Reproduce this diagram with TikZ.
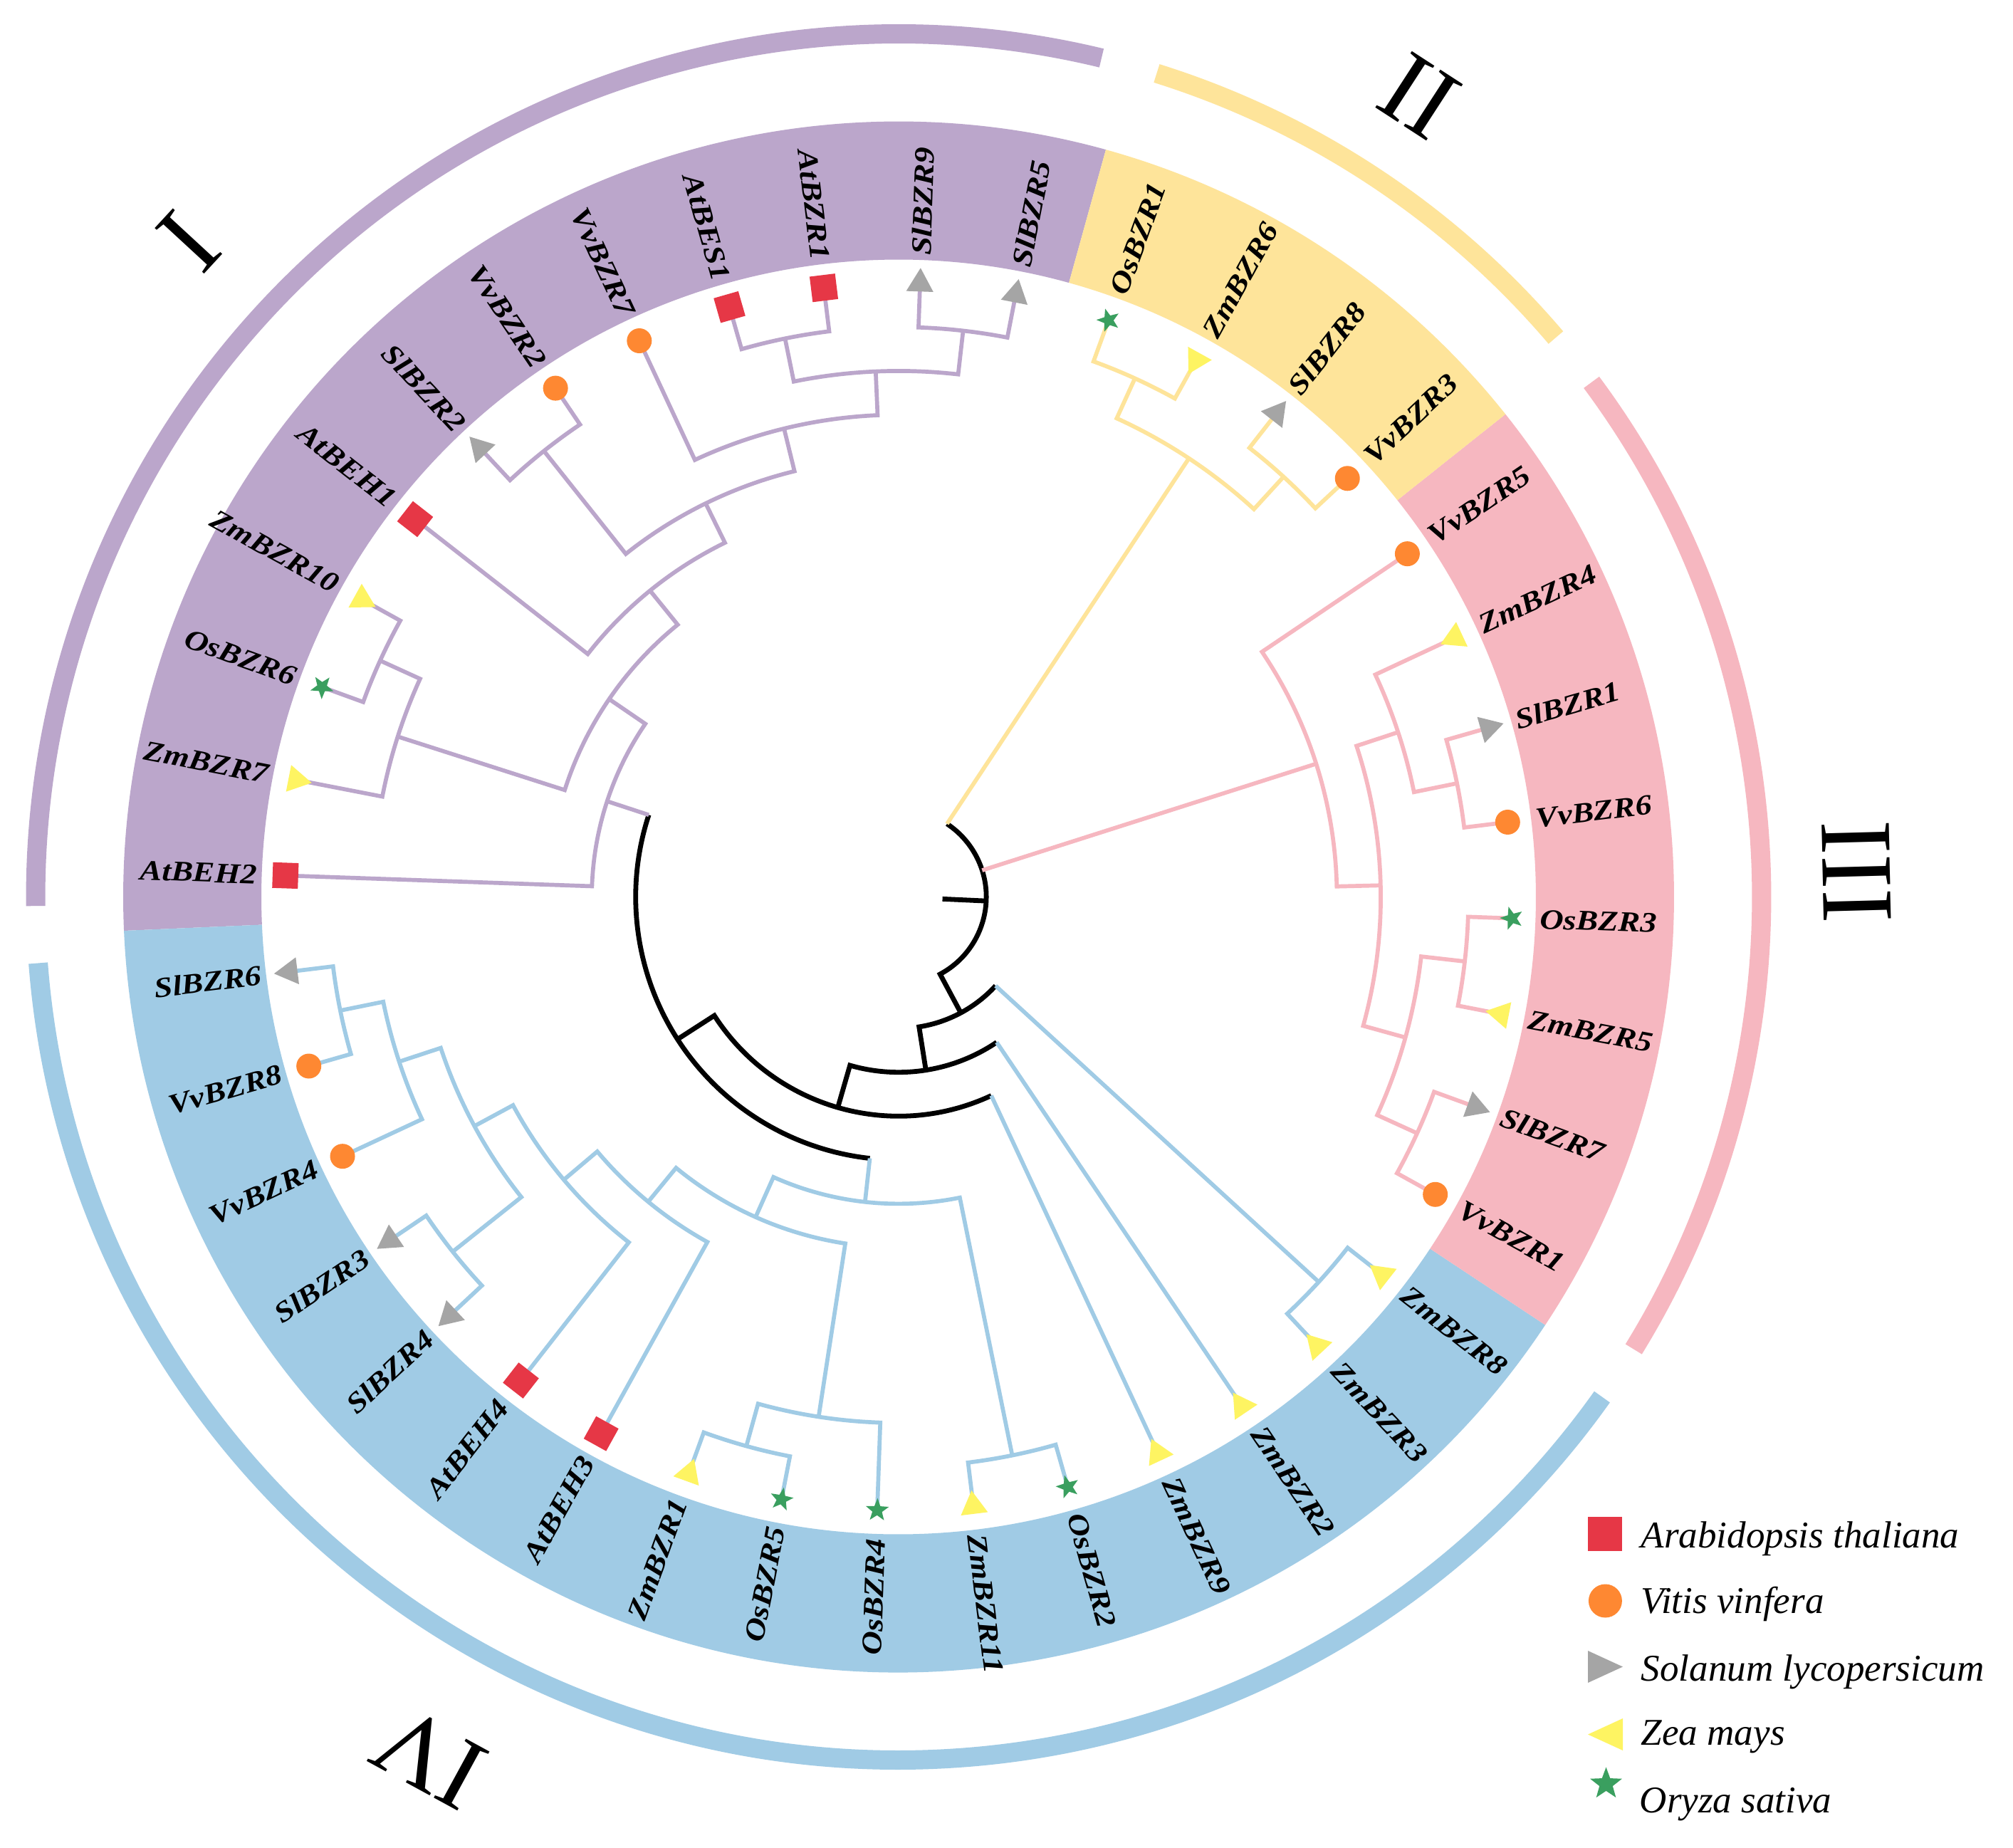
\documentclass[tikz,border=0pt]{standalone}
\usepackage{fontspec}
\setmainfont{Liberation Serif}
\usepackage{graphicx}
\usetikzlibrary{shapes.geometric}

\definecolor{cI}{HTML}{BBA6CB}
\definecolor{cII}{HTML}{FEE49A}
\definecolor{cIII}{HTML}{F6B7C0}
\definecolor{cIV}{HTML}{A0CBE5}
\definecolor{mAt}{HTML}{E63746}
\definecolor{mVv}{HTML}{FE8832}
\definecolor{mSl}{HTML}{A5A5A5}
\definecolor{mZm}{HTML}{FEF462}
\definecolor{mOs}{HTML}{3A9F5F}

\tikzset{
  br/.style={line width=0.057cm, line join=miter},
  bI/.style={br, draw=cI},
  bII/.style={br, draw=cII},
  bIII/.style={br, draw=cIII},
  bIV/.style={br, draw=cIV},
  blk/.style={line width=0.068cm, draw=black, line join=miter},
  mkAt/.style={rectangle, fill=mAt, minimum size=0.36cm, inner sep=0pt, rotate=#1},
  mkVv/.style={circle, fill=mVv, minimum size=0.35cm, inner sep=0pt},
  mkSl/.style={regular polygon, regular polygon sides=3, fill=mSl, minimum size=0.44cm, inner sep=0pt, rotate=#1-90},
  mkZm/.style={regular polygon, regular polygon sides=3, fill=mZm, minimum size=0.44cm, inner sep=0pt, rotate=#1+90},
  mkOs/.style={star, star points=5, star point ratio=2.4, fill=mOs, minimum size=0.34cm, inner sep=0pt, rotate=#1+90},
  lab/.style={inner sep=0pt, font=\fontsize{11.4}{12}\selectfont\bfseries\itshape},
  num/.style={inner sep=0pt, font=\fontsize{41}{41}\selectfont},
  leg/.style={inner sep=0pt, anchor=base west, font=\fontsize{15.1}{16}\selectfont\itshape},
}

% two-child clade: style, name, radius, child1, child2
\newcommand{\clade}[5]{%
  \pgfmathsetmacro\cladeA{\csname ang-#4\endcsname}%
  \pgfmathsetmacro\cladeB{\csname ang-#5\endcsname}%
  \pgfmathsetmacro\cladeM{(\cladeA+\cladeB)/2}%
  \expandafter\xdef\csname ang-#2\endcsname{\cladeM}%
  \coordinate (#2) at (\cladeM:#3);%
  \draw[#1] (#4) -- (\cladeA:#3) arc[start angle=\cladeA, end angle=\cladeB, radius=#3] -- (#5);%
}
% black clade with black stem to child1 and blue stem to child2
\newcommand{\chain}[4]{%
  \pgfmathsetmacro\cladeA{\csname ang-#3\endcsname}%
  \pgfmathsetmacro\cladeB{\csname ang-#4\endcsname}%
  \pgfmathsetmacro\cladeM{(\cladeA+\cladeB)/2}%
  \expandafter\xdef\csname ang-#1\endcsname{\cladeM}%
  \coordinate (#1) at (\cladeM:#2);%
  \draw[blk] (#3) -- (\cladeA:#2) arc[start angle=\cladeA, end angle=\cladeB, radius=#2];%
  \draw[bIV] (\cladeB:#2) -- (#4);%
}

\def\tiplist{SlBZR5/79/mkSl, SlBZR9/88/mkSl, AtBZR1/97/mkAt, AtBES1/106/mkAt, VvBZR7/115/mkVv, VvBZR2/124/mkVv, SlBZR2/133/mkSl, AtBEH1/142/mkAt, ZmBZR10/151/mkZm, OsBZR6/160/mkOs, ZmBZR7/169/mkZm, AtBEH2/178/mkAt,
SlBZR6/187/mkSl, VvBZR8/196/mkVv, VvBZR4/205/mkVv, SlBZR3/214/mkSl, SlBZR4/223/mkSl, AtBEH4/232/mkAt, AtBEH3/241/mkAt, ZmBZR1/250/mkZm, OsBZR5/259/mkOs, OsBZR4/268/mkOs, ZmBZR11/277/mkZm, OsBZR2/286/mkOs, ZmBZR9/295/mkZm, ZmBZR2/304/mkZm, ZmBZR3/313/mkZm, ZmBZR8/322/mkZm,
VvBZR1/-29/mkVv, SlBZR7/-20/mkSl, ZmBZR5/-11/mkZm, OsBZR3/-2/mkOs, VvBZR6/7/mkVv, SlBZR1/16/mkSl, ZmBZR4/25/mkZm, VvBZR5/34/mkVv,
VvBZR3/43/mkVv, SlBZR8/52/mkSl, ZmBZR6/61/mkZm, OsBZR1/70/mkOs}

\begin{document}
\begin{tikzpicture}
\useasboundingbox (0,0) rectangle (28.27,25.94);
\fill[white] (0,0) rectangle (28.27,25.94);

\begin{scope}[shift={(12.62,13.345)}]
  % label bands
  \fill[cI] (74.5:8.95) arc[start angle=74.5, end angle=182.5, radius=8.95] -- (182.5:10.89) arc[start angle=182.5, end angle=74.5, radius=10.89] -- cycle;
  \fill[cIV] (182.5:8.95) arc[start angle=182.5, end angle=326.5, radius=8.95] -- (326.5:10.89) arc[start angle=326.5, end angle=182.5, radius=10.89] -- cycle;
  \fill[cIII] (326.5:8.95) arc[start angle=326.5, end angle=398.5, radius=8.95] -- (398.5:10.89) arc[start angle=398.5, end angle=326.5, radius=10.89] -- cycle;
  \fill[cII] (38.5:8.95) arc[start angle=38.5, end angle=74.5, radius=8.95] -- (74.5:10.89) arc[start angle=74.5, end angle=38.5, radius=10.89] -- cycle;

  % group arcs
  \draw[cI, line width=0.27cm] (76.4:12.12) arc[start angle=76.4, end angle=180.6, radius=12.12];
  \draw[cIV, line width=0.27cm] (184.4:12.12) arc[start angle=184.4, end angle=324.6, radius=12.12];
  \draw[cIII, line width=0.27cm] (328.4:12.12) arc[start angle=328.4, end angle=396.6, radius=12.12];
  \draw[cII, line width=0.27cm] (40.4:12.12) arc[start angle=40.4, end angle=72.6, radius=12.12];

  % tips
  \foreach \nm/\ang/\sp in \tiplist {
    \coordinate (\nm) at (\ang:8.617);
    \expandafter\xdef\csname ang-\nm\endcsname{\ang}
  }

  % clade I
  \clade{bI}{NSS}{8.002}{SlBZR5}{SlBZR9}
  \clade{bI}{NAA}{8.002}{AtBZR1}{AtBES1}
  \clade{bI}{NAB}{7.386}{NSS}{NAA}
  \clade{bI}{NAC}{6.771}{NAB}{VvBZR7}
  \clade{bI}{NVS}{8.002}{VvBZR2}{SlBZR2}
  \clade{bI}{NAD}{6.155}{NAC}{NVS}
  \clade{bI}{NAE}{5.540}{NAD}{AtBEH1}
  \clade{bI}{NZO}{8.002}{ZmBZR10}{OsBZR6}
  \clade{bI}{NZZ}{7.386}{NZO}{ZmBZR7}
  \clade{bI}{NAF}{4.924}{NAE}{NZZ}
  \clade{bI}{NAG}{4.309}{NAF}{AtBEH2}
  % clade IV
  \clade{bIV}{NSV}{8.002}{SlBZR6}{VvBZR8}
  \clade{bIV}{NSVV}{7.386}{NSV}{VvBZR4}
  \clade{bIV}{NSStwo}{8.002}{SlBZR3}{SlBZR4}
  \clade{bIV}{Na}{6.771}{NSVV}{NSStwo}
  \clade{bIV}{Nb}{6.155}{Na}{AtBEH4}
  \clade{bIV}{Nc}{5.540}{Nb}{AtBEH3}
  \clade{bIV}{Ne}{8.002}{ZmBZR1}{OsBZR5}
  \clade{bIV}{Nd}{7.386}{Ne}{OsBZR4}
  \clade{bIV}{BL}{4.924}{Nc}{Nd}
  \clade{bIV}{BZO}{8.002}{ZmBZR11}{OsBZR2}
  \clade{bIV}{Bmain}{4.309}{BL}{BZO}
  \clade{bIV}{NZ83}{8.002}{ZmBZR3}{ZmBZR8}
  % clade III
  \clade{bIII}{P7}{8.002}{VvBZR1}{SlBZR7}
  \clade{bIII}{P6}{8.002}{ZmBZR5}{OsBZR3}
  \clade{bIII}{P5}{7.386}{P7}{P6}
  \clade{bIII}{P4}{8.002}{VvBZR6}{SlBZR1}
  \clade{bIII}{P3}{7.386}{P4}{ZmBZR4}
  \clade{bIII}{P2}{6.771}{P5}{P3}
  \clade{bIII}{P1}{6.155}{P2}{VvBZR5}
  % clade II
  \clade{bII}{Y3}{8.002}{VvBZR3}{SlBZR8}
  \clade{bII}{Y2}{8.002}{ZmBZR6}{OsBZR1}
  \clade{bII}{Y1}{7.386}{Y3}{Y2}

  % black backbone
  \pgfmathsetmacro\rA{\csname ang-NAG\endcsname}
  \pgfmathsetmacro\rB{\csname ang-Bmain\endcsname}
  \pgfmathsetmacro\rM{(\rA+\rB)/2}
  \expandafter\xdef\csname ang-R5\endcsname{\rM}
  \coordinate (R5) at (\rM:3.693);
  \draw[blk] (\rA:3.693) arc[start angle=\rA, end angle=\rB, radius=3.693];
  \draw[bI] (\rA:3.693) -- (NAG);
  \draw[bIV] (\rB:3.693) -- (Bmain);
  \chain{R4}{3.078}{R5}{ZmBZR9}
  \chain{R3}{2.462}{R4}{ZmBZR2}
  \chain{R2}{1.847}{R3}{NZ83}

  % root
  \pgfmathsetmacro\rootA{\csname ang-R2\endcsname}
  \pgfmathsetmacro\rootB{\csname ang-Y1\endcsname+360}
  \pgfmathsetmacro\rootP{\csname ang-P1\endcsname}
  \pgfmathsetmacro\rootM{(\rootA+\rootB)/2}
  \coordinate (root) at (\rootM:1.231);
  \coordinate (rootbase) at (\rootM:0.616);
  \draw[blk] (R2) -- (\rootA:1.231) arc[start angle=\rootA, end angle=\rootB, radius=1.231];
  \draw[bII] (\rootB:1.231) -- (Y1);
  \draw[bIII] (\rootP:1.231) -- (P1);
  \draw[blk] (rootbase) -- (root);

  % markers and labels
  \foreach \nm/\ang/\sp in \tiplist {
    \node[\sp=\ang] (m-\nm) at (\nm) {};
    \pgfmathtruncatemacro\isleft{and(\ang>90,\ang<270)}
    \ifnum\isleft=1
      \node[lab, rotate=\ang-180, anchor=east] (l-\nm) at (\ang:9.01) {\scalebox{1.15}[1]{\nm}};
    \else
      \node[lab, rotate=\ang, anchor=west] (l-\nm) at (\ang:9.01) {\scalebox{1.15}[1]{\nm}};
    \fi
  }
\end{scope}

% group numerals
\node[num, rotate=47.3] (gI) at (2.65,22.55) {I};
\node[num, rotate=-33] (gII) at (19.93,24.59) {II};
\node[num, rotate=-88.5] (gIII) at (26.07,13.70) {III};
\node[num, rotate=151.4] (gIV) at (6.04,1.27) {IV};

% legend
\node[rectangle, fill=mAt, minimum size=0.48cm, inner sep=0pt] (kAt) at (22.544,4.398) {};
\node[circle, fill=mVv, minimum size=0.47cm, inner sep=0pt] (kVv) at (22.544,3.46) {};
\fill[mSl] (22.30,2.76) -- (22.30,2.31) -- (22.79,2.535) -- cycle;
\fill[mZm] (22.79,1.81) -- (22.79,1.36) -- (22.30,1.585) -- cycle;
\node[star, star points=5, star point ratio=2.4, fill=mOs, minimum size=0.47cm, inner sep=0pt] (kOs) at (22.555,0.89) {};
\node[leg] (tAt) at (23.04,4.21) {Arabidopsis thaliana};
\node[leg] (tVv) at (23.04,3.29) {Vitis vinfera};
\node[leg] (tSl) at (23.04,2.34) {Solanum lycopersicum};
\node[leg] (tZm) at (23.04,1.44) {Zea mays};
\node[leg] (tOs) at (23.02,0.49) {Oryza sativa};
\end{tikzpicture}
\end{document}
